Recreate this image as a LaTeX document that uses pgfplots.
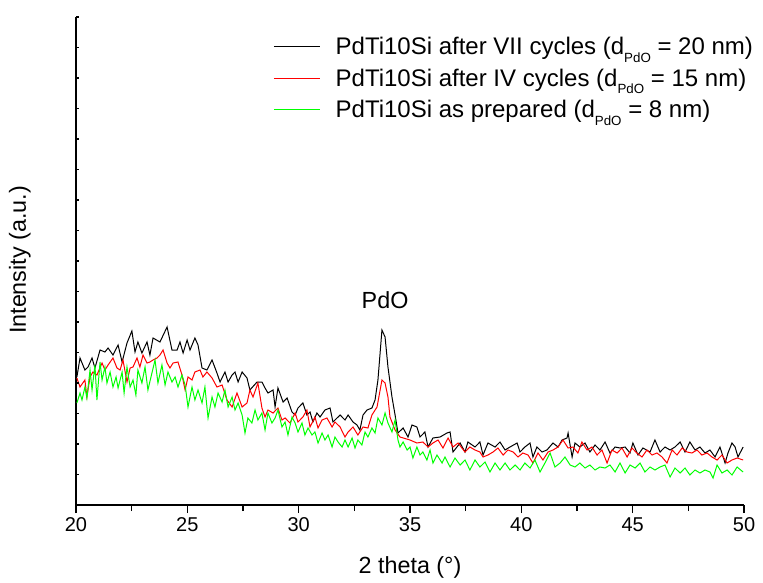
\documentclass[border=0pt]{standalone}
\usepackage{pgfplots}
\pgfplotsset{compat=1.18}
\usepackage{fontspec}
\setmainfont{Liberation Sans}
\newcommand{\sub}[1]{\raisebox{-0.6ex}{\fontsize{10}{10}\selectfont #1}}

\begin{document}
\begin{tikzpicture}[x=1pt,y=1pt]
\begin{axis}[
  at={(0,0)}, anchor=south west,
  scale only axis, width=501pt, height=366pt,
  xmin=20, xmax=50, ymin=0, ymax=488,
  axis x line*=bottom, axis y line*=left,
  axis line style={line width=1.1pt},
  xtick={20,25,...,50}, minor x tick num=1,
  ytick=\empty,
  tick align=outside,
  major tick length=6pt, minor tick length=4.5pt,
  tick style={line width=0.9pt, black},
  tick label style={font=\fontsize{15}{18}\selectfont},
  /pgf/number format/assume math mode=true,
  xlabel={2 theta (°)}, ylabel={Intensity (a.u.)},
  label style={font=\fontsize{17.5}{21}\selectfont},
  xlabel style={at={(axis description cs:0.5,-0.127)}, anchor=center},
  ylabel style={at={(axis description cs:-0.084,0.502)}, anchor=center},
  legend style={draw=none, fill=none, at={(axis description cs:0.295,0.959)},
    anchor=north west, font=\fontsize{18}{21}\selectfont, row sep=9pt,
    column sep=11pt, inner sep=0pt, nodes={inner sep=0pt, inner xsep=0pt}},
  legend cell align=left,
  legend image code/.code={\draw[mark repeat=2,mark phase=2,#1]
    plot coordinates {(0pt,0pt) (17pt,0pt) (35pt,0pt)};},
]
\addplot[black, line width=0.75pt] coordinates {
(20.04,128)(20.18,147)(20.40,135)(20.54,138)(20.72,147)(20.85,137)(21.08,155)
(21.30,153)(21.44,157)(21.66,150)(21.89,160)(22.07,143)(22.29,162)(22.51,174)
(22.65,153)(22.78,163)(22.96,152)(23.19,163)(23.32,150)(23.46,167)(23.77,163)
(24.09,178)(24.31,155)(24.54,155)(24.67,163)(24.81,152)(24.99,165)(25.12,155)
(25.34,167)(25.48,160)(25.66,137)(25.88,135)(26.11,145)(26.33,132)(26.47,123)
(26.69,133)(26.83,123)(27.01,130)(27.14,133)(27.28,123)(27.46,133)(27.68,127)
(27.81,115)(28.13,123)(28.35,123)(28.49,117)(28.62,112)(28.85,115)(28.94,98)
(29.07,117)(29.30,103)(29.48,107)(29.70,93)(29.84,90)(29.97,97)(30.19,102)
(30.37,90)(30.51,93)(30.64,83)(30.82,92)(30.96,88)(31.18,95)(31.41,97)
(31.54,83)(31.86,90)(32.08,85)(32.22,90)(32.44,83)(32.62,80)(32.75,75)
(32.89,90)(33.07,95)(33.29,97)(33.43,105)(33.56,125)(33.74,175)(33.88,168)
(34.01,138)(34.19,108)(34.33,90)(34.46,72)(34.69,77)(34.91,68)(35.09,80)
(35.31,78)(35.45,68)(35.67,73)(35.81,58)(36.03,67)(36.35,68)(36.66,72)
(36.80,73)(36.93,53)(37.25,62)(37.47,53)(37.60,63)(37.92,58)(38.14,63)
(38.28,50)(38.50,62)(38.82,58)(39.04,63)(39.27,55)(39.49,58)(39.81,62)
(39.94,53)(40.16,58)(40.39,62)(40.52,48)(40.70,58)(40.93,53)(41.15,55)
(41.42,62)(41.65,58)(41.83,65)(42.05,67)(42.10,72)(42.28,48)(42.41,62)
(42.63,58)(42.86,62)(43.08,53)(43.31,60)(43.53,55)(43.76,63)(43.98,52)
(44.21,58)(44.43,57)(44.66,58)(44.88,52)(45.01,62)(45.24,50)(45.46,57)
(45.78,53)(46.00,65)(46.23,53)(46.45,58)(46.68,55)(46.90,58)(47.13,63)
(47.35,53)(47.57,63)(47.80,55)(48.02,58)(48.25,52)(48.47,55)(48.70,48)
(48.92,58)(49.15,42)(49.28,52)(49.46,62)(49.60,58)(49.73,48)(49.96,58)
};
\addlegendentry{PdTi10Si after VII cycles (d\sub{PdO} = 20 nm)}
\addplot[red, line width=0.75pt] coordinates {
(20.04,127)(20.18,118)(20.40,125)(20.49,108)(20.63,128)(20.76,133)(20.94,130)
(21.17,142)(21.30,135)(21.44,140)(21.66,147)(21.84,137)(21.98,135)(22.11,145)
(22.29,123)(22.43,137)(22.56,138)(22.74,147)(22.87,138)(23.01,150)(23.19,142)
(23.32,143)(23.46,145)(23.64,147)(23.77,150)(23.91,155)(24.09,142)(24.22,137)
(24.36,142)(24.58,143)(24.76,130)(24.90,115)(25.03,128)(25.21,125)(25.34,133)
(25.57,135)(25.70,128)(25.88,133)(26.11,127)(26.33,118)(26.56,120)(26.78,105)
(27.01,98)(27.23,112)(27.46,98)(27.68,102)(27.81,115)(27.95,108)(28.17,122)
(28.35,97)(28.49,88)(28.62,95)(28.85,92)(29.07,97)(29.25,85)(29.39,87)
(29.61,82)(29.84,92)(29.97,83)(30.19,88)(30.37,95)(30.51,78)(30.73,88)
(30.87,77)(31.05,85)(31.27,87)(31.50,78)(31.63,83)(31.86,78)(32.08,68)
(32.22,73)(32.44,78)(32.66,70)(32.89,78)(33.11,77)(33.29,90)(33.52,98)
(33.74,125)(33.88,122)(34.01,108)(34.10,88)(34.33,75)(34.55,68)(35.00,65)
(35.31,62)(35.58,63)(35.81,58)(36.03,62)(36.26,65)(36.48,57)(36.71,67)
(36.93,58)(37.16,62)(37.47,53)(37.69,58)(37.92,55)(38.14,53)(38.28,48)
(38.50,50)(38.73,53)(38.95,57)(39.18,50)(39.40,55)(39.63,53)(39.85,48)
(40.07,52)(40.30,50)(40.52,42)(40.75,52)(40.97,45)(41.20,53)(41.42,55)
(41.65,58)(41.87,65)(42.10,57)(42.32,58)(42.54,52)(42.72,63)(42.95,55)
(43.17,58)(43.40,50)(43.62,55)(43.85,42)(44.07,55)(44.30,52)(44.52,57)
(44.75,48)(44.97,57)(45.19,52)(45.42,48)(45.64,55)(45.87,50)(46.09,52)
(46.32,48)(46.54,42)(46.77,55)(46.99,50)(47.22,57)(47.44,53)(47.66,52)
(47.89,55)(48.11,50)(48.34,52)(48.56,48)(48.79,45)(49.01,50)(49.24,42)
(49.46,45)(49.69,47)(49.96,45)
};
\addlegendentry{PdTi10Si after IV cycles (d\sub{PdO} = 15 nm)}
\addplot[green, line width=0.75pt] coordinates {
(20.04,102)(20.18,112)(20.27,105)(20.40,118)(20.49,107)(20.63,135)(20.72,115)
(20.85,140)(20.94,105)(21.08,143)(21.17,125)(21.30,138)(21.39,122)(21.53,133)
(21.66,118)(21.80,128)(21.89,117)(22.07,133)(22.16,112)(22.29,138)(22.43,118)
(22.56,125)(22.69,110)(22.78,135)(22.96,122)(23.10,138)(23.23,115)(23.41,132)
(23.55,145)(23.68,122)(23.86,140)(24.00,120)(24.13,133)(24.31,123)(24.45,128)
(24.58,118)(24.76,130)(24.90,120)(25.03,98)(25.21,118)(25.34,105)(25.48,115)
(25.66,102)(25.79,118)(25.93,87)(26.11,108)(26.24,98)(26.38,112)(26.56,103)
(26.69,115)(26.83,98)(27.01,108)(27.14,95)(27.28,102)(27.46,90)(27.59,72)
(27.72,87)(27.90,82)(28.04,95)(28.17,85)(28.35,92)(28.49,75)(28.62,92)
(28.80,82)(28.94,87)(29.07,95)(29.25,78)(29.39,83)(29.52,70)(29.70,88)
(29.84,82)(29.97,73)(30.15,82)(30.28,70)(30.42,77)(30.60,70)(30.73,73)
(30.87,62)(31.05,72)(31.18,65)(31.32,70)(31.50,58)(31.63,68)(31.77,63)
(31.95,58)(32.08,65)(32.22,58)(32.40,67)(32.53,57)(32.66,65)(32.84,60)
(32.98,73)(33.11,68)(33.29,77)(33.43,72)(33.56,87)(33.74,80)(33.88,92)
(34.01,82)(34.19,73)(34.33,85)(34.46,65)(34.55,58)(34.69,63)(34.87,55)
(35.00,58)(35.13,47)(35.31,58)(35.45,50)(35.58,53)(35.76,45)(35.90,55)
(36.03,42)(36.21,50)(36.44,42)(36.57,48)(36.80,38)(37.02,47)(37.25,40)
(37.47,45)(37.69,35)(37.92,45)(38.14,38)(38.37,43)(38.59,33)(38.82,42)
(39.04,35)(39.27,42)(39.49,35)(39.72,40)(39.94,35)(40.16,42)(40.39,37)
(40.61,45)(40.84,33)(41.06,42)(41.29,52)(41.51,38)(41.74,42)(41.96,48)
(42.19,40)(42.41,38)(42.63,42)(42.86,37)(43.08,40)(43.31,35)(43.53,38)
(43.76,37)(43.98,40)(44.21,33)(44.43,42)(44.66,32)(44.88,40)(45.11,37)
(45.33,42)(45.55,33)(45.78,38)(46.00,35)(46.23,38)(46.45,40)(46.68,28)
(46.90,37)(47.13,32)(47.35,37)(47.57,30)(47.80,35)(48.02,32)(48.25,35)
(48.47,33)(48.61,27)(48.79,40)(49.01,32)(49.24,35)(49.46,30)(49.69,38)
(49.96,33)
};
\addlegendentry{PdTi10Si as prepared (d\sub{PdO} = 8 nm)}
\node[font=\fontsize{17.5}{21}\selectfont] at (axis cs:33.88,205) {PdO};
\end{axis}
\foreach \i in {1,...,16} \draw[line width=0.8pt] (0,\i*22.875) -- ++(2.5pt,0);
\pgfresetboundingbox
\path[use as bounding box] (-57pt,-57.75pt) rectangle (515.25pt,378.75pt);
\end{tikzpicture}
\end{document}
